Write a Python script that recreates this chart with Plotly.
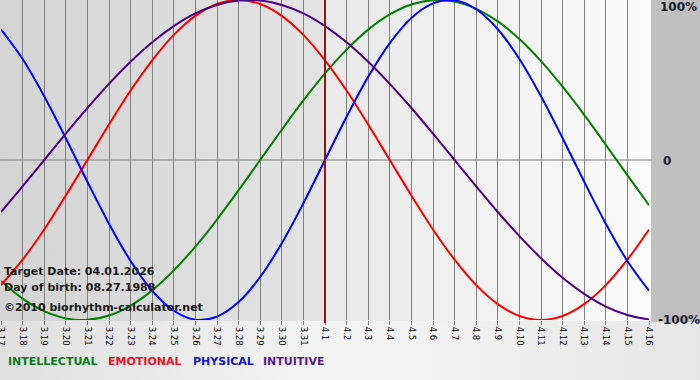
import base64
import plotly.graph_objects as go

# ---------------- data ----------------
dates = ["3.17", "3.18", "3.19", "3.20", "3.21", "3.22", "3.23", "3.24", "3.25", "3.26",
         "3.27", "3.28", "3.29", "3.30", "3.31", "4.1", "4.2", "4.3", "4.4", "4.5",
         "4.6", "4.7", "4.8", "4.9", "4.10", "4.11", "4.12", "4.13", "4.14", "4.15", "4.16"]

intellectual = [-0.756, -0.866, -0.945, -0.990, -0.999, -0.972, -0.910, -0.815, -0.690, -0.541,
                -0.372, -0.189, 0.000, 0.189, 0.372, 0.541, 0.690, 0.815, 0.910, 0.972,
                0.999, 0.990, 0.945, 0.866, 0.756, 0.618, 0.458, 0.282, 0.095, -0.095, -0.282]

emotional = [-0.782, -0.623, -0.434, -0.222, 0.000, 0.222, 0.434, 0.623, 0.782, 0.901,
             0.975, 1.000, 0.975, 0.901, 0.782, 0.623, 0.434, 0.222, 0.000, -0.222,
             -0.434, -0.623, -0.782, -0.901, -0.975, -1.000, -0.975, -0.901, -0.782, -0.623, -0.434]

physical = [0.817, 0.631, 0.398, 0.136, -0.136, -0.398, -0.631, -0.817, -0.942, -0.998,
            -0.979, -0.888, -0.731, -0.520, -0.270, 0.000, 0.270, 0.520, 0.731, 0.888,
            0.979, 0.998, 0.942, 0.817, 0.631, 0.398, 0.136, -0.136, -0.398, -0.631, -0.817]

intuitive = [-0.325, -0.165, 0.000, 0.165, 0.325, 0.476, 0.614, 0.736, 0.837, 0.916,
             0.969, 0.997, 0.997, 0.969, 0.916, 0.837, 0.736, 0.614, 0.476, 0.325,
             0.165, 0.000, -0.165, -0.325, -0.476, -0.614, -0.736, -0.837, -0.916, -0.969, -0.997]

series_names = ["INTELLECTUAL", "EMOTIONAL", "PHYSICAL", "INTUITIVE"]
target_date = "4.1"
y_labels = ["100%", "0", "-100%"]
info_lines = ["Target Date: 04.01.2026", "Day of birth: 08.27.1988", "©2010 biorhythm-calculator.net"]

# ---------------- styling / layout ----------------
W, H = 700, 380
L, R, T, B = 1, 51, 0, 60
PW, PH = W - L - R, H - T - B

def px(xp):
    return (xp - L) / PW

def py(yp):
    return (H - B - yp) / PH

colors = {"INTELLECTUAL": "#008000", "EMOTIONAL": "#ff0000",
          "PHYSICAL": "#0000ff", "INTUITIVE": "#4b0082"}
legend_colors = {"INTELLECTUAL": "#0b7a1a", "EMOTIONAL": "#ee1428",
                 "PHYSICAL": "#1414cc", "INTUITIVE": "#561a8c"}

svg = """<svg xmlns="http://www.w3.org/2000/svg" width="700" height="380" viewBox="0 0 700 380">
<defs>
<linearGradient id="bot" x1="0" x2="1" y1="0" y2="0">
<stop offset="0" stop-color="#e0e0e0"/><stop offset="0.5" stop-color="#f5f5f5"/><stop offset="1" stop-color="#e6e6e6"/>
</linearGradient>
<linearGradient id="pl" x1="0" x2="1" y1="0" y2="0">
<stop offset="0" stop-color="#d4d4d4"/><stop offset="1" stop-color="#e4e4e4"/>
</linearGradient>
<linearGradient id="pr" x1="0" x2="1" y1="0" y2="0">
<stop offset="0" stop-color="#e9e9e9"/><stop offset="1" stop-color="#fbfbfb"/>
</linearGradient>
</defs>
<rect x="0" y="0" width="700" height="380" fill="url(#bot)"/>
<rect x="0" y="0" width="325" height="321" fill="url(#pl)"/>
<rect x="325" y="0" width="326" height="321" fill="url(#pr)"/>
<rect x="651" y="0" width="49" height="322" fill="#c0c0c0"/>
</svg>"""
svg_uri = "data:image/svg+xml;base64," + base64.b64encode(svg.encode()).decode()

xs = list(range(len(dates)))
fig = go.Figure()
for name, vals in zip(series_names, [intellectual, emotional, physical, intuitive]):
    fig.add_trace(go.Scatter(x=xs, y=vals, mode="lines", name=name,
                             line=dict(color=colors[name], width=2, shape="spline"),
                             cliponaxis=False, hoverinfo="skip"))

ti = dates.index(target_date)
shapes = [
    dict(type="line", xref="paper", yref="y", x0=px(0), x1=px(652), y0=0, y1=0,
         line=dict(color="#808080", width=1), layer="below"),
    dict(type="line", xref="x", yref="paper", x0=ti, x1=ti, y0=py(323), y1=1,
         line=dict(color="#8b1a1a", width=2)),
]

annotations = []
for text, yc in zip(y_labels, [7, 161, 320]):
    xl = {"100%": 658, "0": 661, "-100%": 656}[text]
    annotations.append(dict(text="<b>" + text + "</b>", x=px(xl), y=py(yc), xref="paper", yref="paper",
                            xanchor="left", yanchor="middle", showarrow=False,
                            font=dict(family="DejaVu Sans", size=12, color="#1a1a2a")))
for text, yc in zip(info_lines, [271.5, 287.5, 307.5]):
    annotations.append(dict(text="<b>" + text + "</b>", x=px(2), y=py(yc), xref="paper", yref="paper",
                            xanchor="left", yanchor="middle", showarrow=False,
                            font=dict(family="DejaVu Sans", size=11, color="#1a1a1a")))
for name, xl in zip(series_names, [6, 106, 191, 261]):
    annotations.append(dict(text="<b>" + name + "</b>", x=px(xl), y=py(361.5), xref="paper", yref="paper",
                            xanchor="left", yanchor="middle", showarrow=False,
                            font=dict(family="DejaVu Sans", size=11, color=legend_colors[name])))

fig.update_layout(
    width=W, height=H, margin=dict(l=L, r=R, t=T, b=B, autoexpand=False),
    paper_bgcolor="#e8e8e8", plot_bgcolor="rgba(0,0,0,0)",
    showlegend=False,
    images=[dict(source=svg_uri, xref="paper", yref="paper", x=px(0), y=py(0),
                 sizex=W / PW, sizey=H / PH, xanchor="left", yanchor="top",
                 sizing="stretch", layer="below")],
    shapes=shapes, annotations=annotations,
    xaxis=dict(range=[0, len(dates) - 1], tickmode="array", tickvals=xs, ticktext=dates,
               tickangle=90, showgrid=True, gridcolor="#808080", gridwidth=1,
               ticks="outside", ticklen=4, tickcolor="#808080", showline=False, zeroline=False,
               ticklabeloverflow="allow", automargin=False,
               tickfont=dict(family="DejaVu Sans", size=8.5, color="#000000"), fixedrange=True),
    yaxis=dict(range=[-1, 1], showgrid=False, zeroline=False, showticklabels=False,
               showline=False, fixedrange=True, automargin=False),
)

fig.write_html("out.html", config={"displayModeBar": False},
               post_script="document.body.style.margin='0';document.body.style.overflow='hidden';")
